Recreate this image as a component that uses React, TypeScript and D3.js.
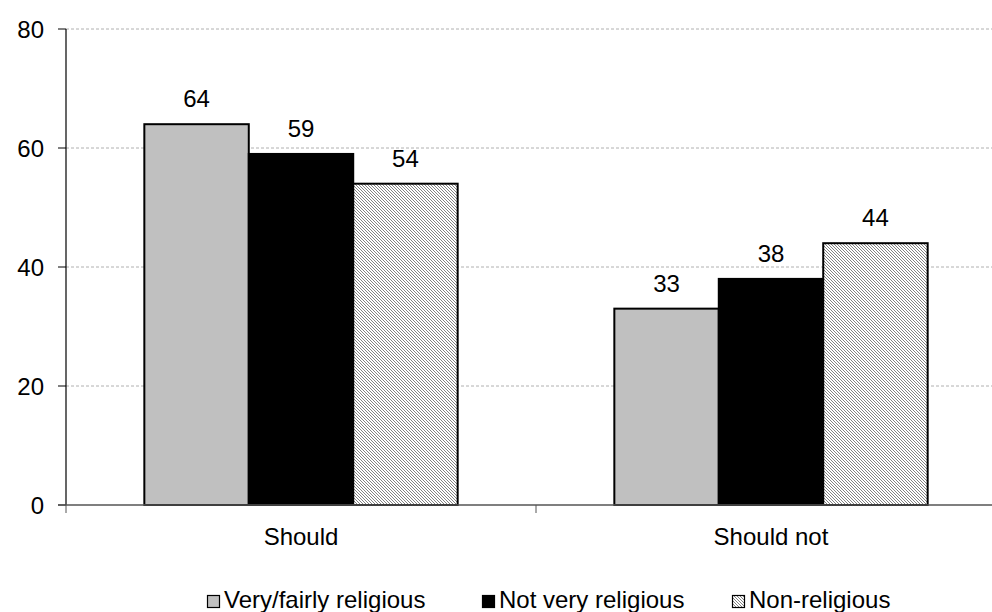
import React from "react";
import * as d3 from "d3";

const categories = ["Should", "Should not"];
const seriesNames = ["Very/fairly religious", "Not very religious", "Non-religious"];
const veryFairly = [64, 33];
const notVery = [59, 38];
const nonReligious = [54, 44];
const yTicks = [0, 20, 40, 60, 80];

const seriesValues = [veryFairly, notVery, nonReligious];
const fills = ["#c0c0c0", "#000000", "url(#hatch)"];

const W = 992;
const H = 612;
const FONT = "'Liberation Sans', Arial, sans-serif";

export default function App() {
  const x0 = d3.scaleBand<string>().domain(categories).range([66, 1006]).paddingInner(0).paddingOuter(0);
  const x1 = d3
    .scaleBand<string>()
    .domain(seriesNames)
    .range([0, x0.bandwidth()])
    .paddingInner(0)
    .paddingOuter(0.75);
  const y = d3.scaleLinear().domain([0, 80]).range([505, 29]);

  const legendX = [207, 482, 732];

  return (
    <svg
      width={W}
      height={H}
      style={{ position: "absolute", left: 0, top: 0, background: "#fff" }}
      fontFamily={FONT}
    >
      <defs>
        <pattern id="hatch" patternUnits="userSpaceOnUse" width={3} height={3}>
          <rect width={3} height={3} fill="#fff" />
          <path d="M-1,-1 L4,4 M-1,2 L1,4 M2,-1 L4,1" stroke="#5a5a5a" strokeWidth={0.75} />
        </pattern>
      </defs>
      <rect width={W} height={H} fill="#fff" />

      {/* gridlines */}
      {yTicks
        .filter((t) => t !== 0)
        .map((t) => (
          <line
            key={"g" + t}
            x1={66}
            x2={W}
            y1={y(t)}
            y2={y(t)}
            stroke="#b0b0b0"
            strokeWidth={1}
            strokeDasharray="3,2"
          />
        ))}

      {/* y tick marks and labels */}
      {yTicks.map((t) => (
        <g key={"t" + t}>
          <line x1={58} x2={66} y1={y(t)} y2={y(t)} stroke="#000" strokeWidth={1} />
          <text x={44} y={y(t)} dy="0.36em" textAnchor="end" fontSize={24} fill="#000">
            {t}
          </text>
        </g>
      ))}

      {/* bars */}
      {categories.map((c, ci) => (
        <g key={c} transform={`translate(${x0(c)},0)`}>
          {seriesNames.map((s, si) => {
            const v = seriesValues[si][ci];
            const bx = x1(s) as number;
            return (
              <g key={s}>
                <rect
                  x={bx}
                  y={y(v)}
                  width={x1.bandwidth()}
                  height={y(0) - y(v)}
                  fill={fills[si]}
                  stroke="#000"
                  strokeWidth={2}
                />
                <text
                  x={bx + x1.bandwidth() / 2}
                  y={y(v) - 17}
                  textAnchor="middle"
                  fontSize={24}
                  fill="#000"
                >
                  {v}
                </text>
              </g>
            );
          })}
        </g>
      ))}

      {/* axes */}
      <line x1={66} x2={66} y1={y(80)} y2={y(0)} stroke="#000" strokeWidth={1.2} />
      <line x1={58} x2={W} y1={y(0)} y2={y(0)} stroke="#555" strokeWidth={1.5} />
      {[66, 536].map((tx) => (
        <line key={"ct" + tx} x1={tx} x2={tx} y1={y(0)} y2={y(0) + 8} stroke="#555" strokeWidth={1} />
      ))}

      {/* category labels */}
      {categories.map((c) => (
        <text
          key={"cl" + c}
          x={(x0(c) as number) + x0.bandwidth() / 2}
          y={545}
          textAnchor="middle"
          fontSize={24}
          fill="#000"
        >
          {c}
        </text>
      ))}

      {/* legend */}
      {seriesNames.map((s, i) => (
        <g key={"lg" + s}>
          <rect
            x={legendX[i] + 0.5}
            y={595.5}
            width={12}
            height={12}
            fill={fills[i]}
            stroke="#000"
            strokeWidth={1.2}
          />
          <text x={legendX[i] + 17} y={608} fontSize={24} fill="#000">
            {s}
          </text>
        </g>
      ))}
    </svg>
  );
}
